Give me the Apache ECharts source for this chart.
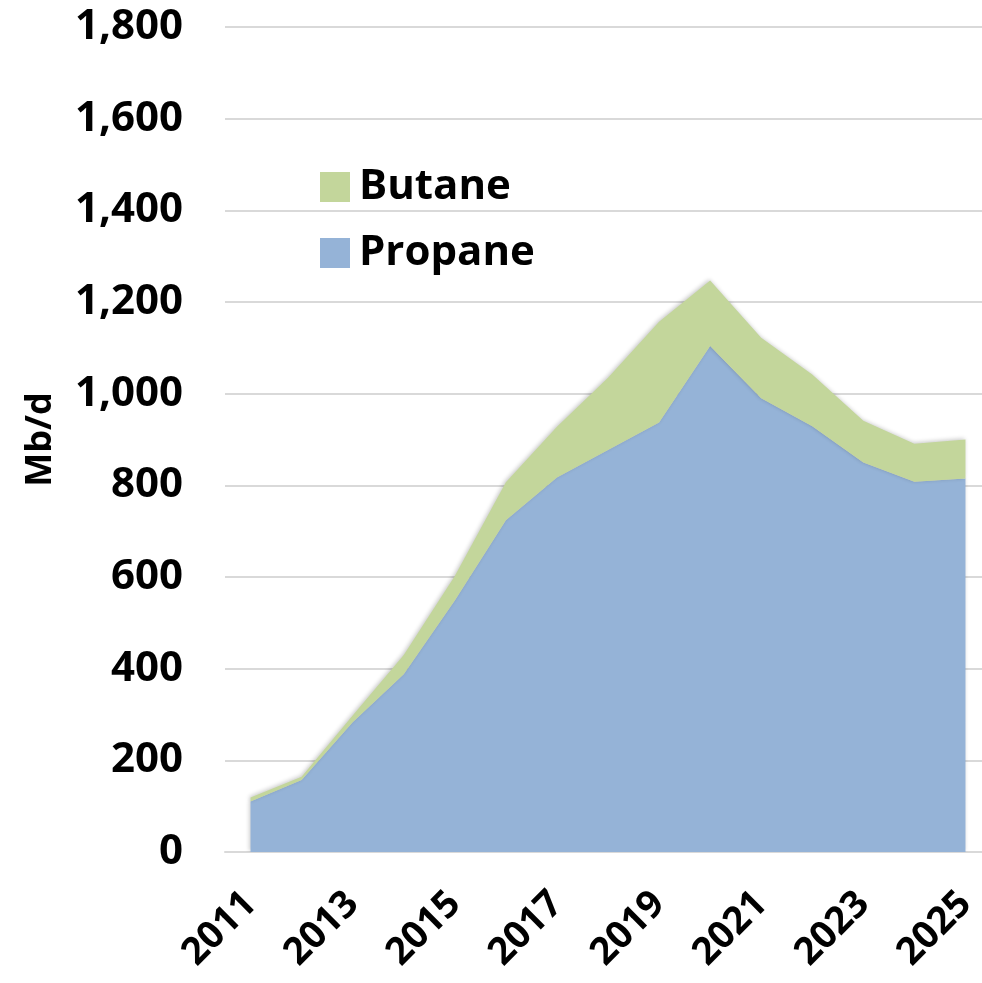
<!DOCTYPE html>
<html>
<head>
<meta charset="utf-8">
<script src="https://cdn.jsdelivr.net/npm/echarts@6/dist/echarts.min.js"></script>
<style>
  html, body { margin: 0; padding: 0; background: #ffffff; }
  #chart { width: 982px; height: 983px; }
</style>
</head>
<body>
<div id="chart"></div>
<script>
// LPG export volumes, Mb/d
const years = ['2011','2012','2013','2014','2015','2016','2017','2018','2019','2020','2021','2022','2023','2024','2025'];
const propane = [110, 157, 283, 388, 549, 724, 817, 877, 937, 1104, 990, 929, 850, 808, 815];
const butane  = [9, 7, 15, 42, 53, 83, 111, 158, 220, 143, 132, 113, 91, 83, 85];
const yTicks = [0, 200, 400, 600, 800, 1000, 1200, 1400, 1600, 1800];

const FONT = '"Open Sans", Lato, sans-serif';
const BLUE = '#95B3D7';
const GREEN = '#C3D69B';

const chart = echarts.init(document.getElementById('chart'), null, { renderer: 'canvas' });

const areaSeries = (name, data, color) => ({
  name: name,
  type: 'line',
  stack: 'total',
  data: data,
  showSymbol: false,
  symbol: 'none',
  lineStyle: { width: 0 },
  itemStyle: { color: color },
  areaStyle: {
    color: color,
    opacity: 1,
    shadowColor: 'rgba(0,0,0,0.22)',
    shadowBlur: 4,
    shadowOffsetX: -1,
    shadowOffsetY: -1
  },
  emphasis: { disabled: true },
  silent: true
});

chart.setOption({
  animation: false,
  grid: { left: 225, top: 27, width: 766, height: 825, containLabel: false, outerBoundsMode: 'none' },
  legend: {
    data: ['Butane', 'Propane'],
    orient: 'vertical',
    left: 315,
    top: 161,
    itemWidth: 30,
    itemHeight: 30,
    itemGap: 24,
    icon: 'rect',
    textStyle: {
      fontFamily: FONT, fontWeight: 'bold', fontSize: 42,
      color: '#000', padding: [0, 0, 0, 4]
    }
  },
  xAxis: {
    type: 'category',
    data: years,
    boundaryGap: true,
    axisLine: { show: true, lineStyle: { color: '#d9d9d9', width: 2 } },
    axisTick: { show: false },
    axisLabel: {
      interval: 1,
      rotate: 45,
      margin: 46,
      fontFamily: FONT,
      fontWeight: 'bold',
      fontSize: 38,
      color: '#000'
    },
    splitLine: { show: false }
  },
  yAxis: {
    type: 'value',
    min: yTicks[0],
    max: yTicks[yTicks.length - 1],
    interval: 200,
    name: 'Mb/d',
    nameLocation: 'middle',
    nameRotate: 90,
    nameGap: 166,
    nameTextStyle: { fontFamily: FONT, fontWeight: 'bold', fontSize: 36, color: '#000' },
    axisLine: { show: false },
    axisTick: { show: false },
    axisLabel: {
      margin: 42,
      fontFamily: FONT,
      fontWeight: 'bold',
      fontSize: 42,
      color: '#000',
      formatter: v => v.toLocaleString('en-US')
    },
    splitLine: { show: true, lineStyle: { color: '#d9d9d9', width: 2 } }
  },
  series: [
    areaSeries('Propane', propane, BLUE),
    areaSeries('Butane', butane, GREEN)
  ]
});
</script>
</body>
</html>
